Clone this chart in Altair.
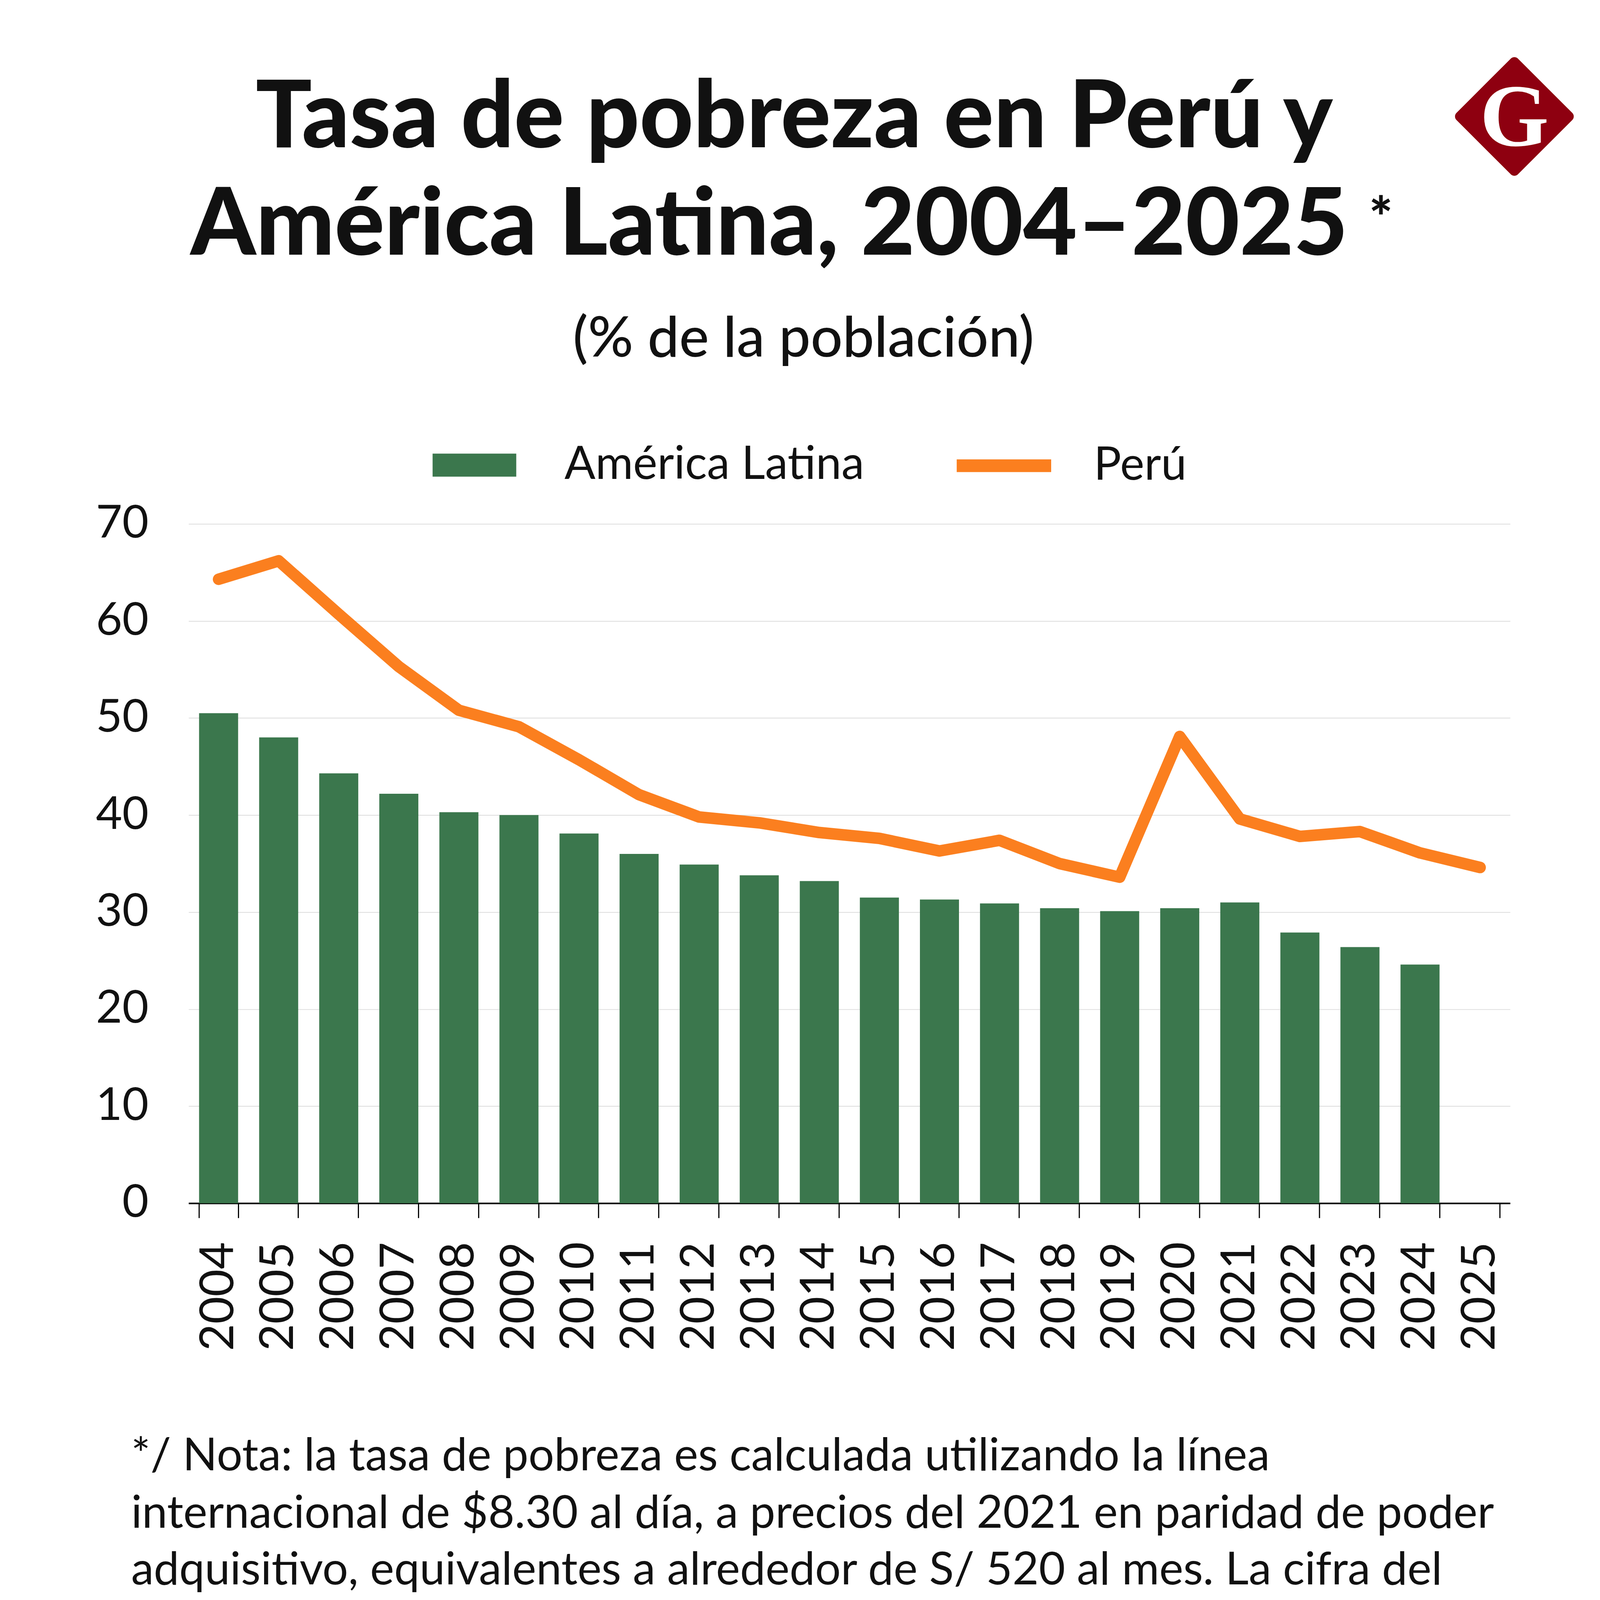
import altair as alt
import pandas as pd

# ---- data ----
years = ["2004", "2005", "2006", "2007", "2008", "2009", "2010", "2011", "2012", "2013", "2014",
         "2015", "2016", "2017", "2018", "2019", "2020", "2021", "2022", "2023", "2024", "2025"]
latam = [50.5, 48.0, 44.3, 42.2, 40.3, 40.0, 38.1, 36.0, 34.9, 33.8, 33.2,
         31.5, 31.3, 30.9, 30.4, 30.1, 30.4, 31.0, 27.9, 26.4, 24.6, None]
peru = [64.3, 66.2, 60.7, 55.3, 50.8, 49.1, 45.7, 42.1, 39.8, 39.2, 38.2,
        37.6, 36.3, 37.4, 35.0, 33.6, 48.1, 39.6, 37.8, 38.3, 36.1, 34.6]
y_ticks = [0, 10, 20, 30, 40, 50, 60, 70]

title_lines = ["Tasa de pobreza en Perú y", "América Latina, 2004–2025"]
subtitle = "(% de la población)"
note_lines = [
    "*/ Nota: la tasa de pobreza es calculada utilizando la línea",
    "internacional de $8.30 al día, a precios del 2021 en paridad de poder",
    "adquisitivo, equivalentes a alrededor de S/ 520 al mes. La cifra del",
    "2025 para Perú es estimado del Banco Mundial.",
]
source = "Fuente: Banco Mundial."

GREEN = "#3b774d"
ORANGE = "#fb7f1f"
RED = "#8e0010"
FONT = "Lato"
TITLE_FONT = "Lato Black, Lato"

df = pd.DataFrame({"year": years, "latam": latam, "peru": peru})
df["s_bar"] = "América Latina"
df["s_line"] = "Perú"

W, H = 3428, 1762

xenc = alt.X("year:N", sort=years,
             scale=alt.Scale(paddingInner=0.35, paddingOuter=0.175),
             axis=alt.Axis(title=None, labelAngle=270, labelFontSize=122, labelFont=FONT,
                           labelColor="#111111", tickSize=38, tickWidth=3, tickColor="#000000",
                           domainColor="#000000", domainWidth=4, labelPadding=62,
                           labelLimit=0, tickBand="extent", grid=False))

bars = alt.Chart(df).transform_filter("datum.latam != null").mark_bar(color=GREEN).encode(
    x=xenc,
    y=alt.Y("latam:Q", scale=alt.Scale(domain=[0, 70], nice=False),
            axis=alt.Axis(title=None, values=y_ticks, grid=True, gridColor="#dcdcdc", gridWidth=2,
                          domain=False, ticks=False, labelFontSize=118, labelFont=FONT,
                          labelColor="#111111", labelPadding=104, labelLimit=0)),
    fill=alt.Fill("s_bar:N", scale=alt.Scale(domain=["América Latina"], range=[GREEN]),
                  legend=alt.Legend(title=None, orient="none", legendX=633, legendY=-261,
                                    symbolType="M-1,-0.276H1V0.276H-1Z", symbolSize=47089,
                                    symbolStrokeWidth=0, labelFontSize=119, labelFont=FONT,
                                    labelColor="#111111", labelOffset=125, labelLimit=0)),
)

line = alt.Chart(df).mark_line(strokeWidth=30, strokeCap="round", strokeJoin="round").encode(
    x=alt.X("year:N", sort=years),
    y=alt.Y("peru:Q"),
    stroke=alt.Stroke("s_line:N", scale=alt.Scale(domain=["Perú"], range=[ORANGE]),
                      legend=alt.Legend(title=None, orient="none", legendX=1976, legendY=-290,
                                        symbolType="stroke", symbolSize=60025,
                                        symbolStrokeWidth=33, labelFontSize=119, labelFont=FONT,
                                        labelColor="#111111", labelOffset=94, labelLimit=0)),
)


def text_layer(txt, x, y, size, weight="normal", align="center", color="#111111",
               font=FONT, baseline="alphabetic"):
    return alt.Chart(pd.DataFrame({"t": [txt]})).mark_text(
        fontSize=size, fontWeight=weight, align=align, baseline=baseline,
        color=color, font=font, limit=0
    ).encode(text="t:N", x=alt.value(x), y=alt.value(y))


layers = [bars, line]
# titles
layers.append(text_layer(title_lines[0], 1571, -977, 242, weight=900, font=TITLE_FONT))
layers.append(text_layer(title_lines[1], 1506, -698, 242, weight=900, font=TITLE_FONT))
layers.append(text_layer("*", 3062, -858, 145, weight=900, align="left", baseline="top",
                         font=TITLE_FONT))
layers.append(text_layer(subtitle, 1595, -434, 146, weight=500))
# notes
for ln, yy in zip(note_lines, [2455, 2604, 2751, 2903]):
    layers.append(text_layer(ln, -149, yy, 118, align="left"))
layers.append(text_layer(source, -123, 3396, 118, align="left"))

# separator rule
sep = alt.Chart(pd.DataFrame({"a": [0]})).mark_rule(color="#a8a8a8", strokeWidth=3).encode(
    x=alt.value(-481), x2=alt.value(3653), y=alt.value(3125))
layers.append(sep)

# logo
logo = alt.Chart(pd.DataFrame({"a": [0]})).mark_point(
    shape="diamond", filled=True, color=RED, stroke=RED, strokeWidth=26,
    strokeJoin="round", size=79524, opacity=1).encode(x=alt.value(3439), y=alt.value(-1057))
layers.append(logo)
layers.append(text_layer("G", 3439, -981, 230, weight="bold", color="#ffffff",
                         font="Liberation Serif"))

chart = alt.layer(*layers).resolve_scale(fill="independent", stroke="independent").properties(
    width=W, height=H,
    autosize=alt.AutoSizeParams(type="none"),
    padding={"left": 481, "top": 1318, "right": 225, "bottom": 1902},
    background="#ffffff",
).configure_view(stroke=None)

chart.save("out.html", embed_options={"renderer": "svg", "actions": False})
